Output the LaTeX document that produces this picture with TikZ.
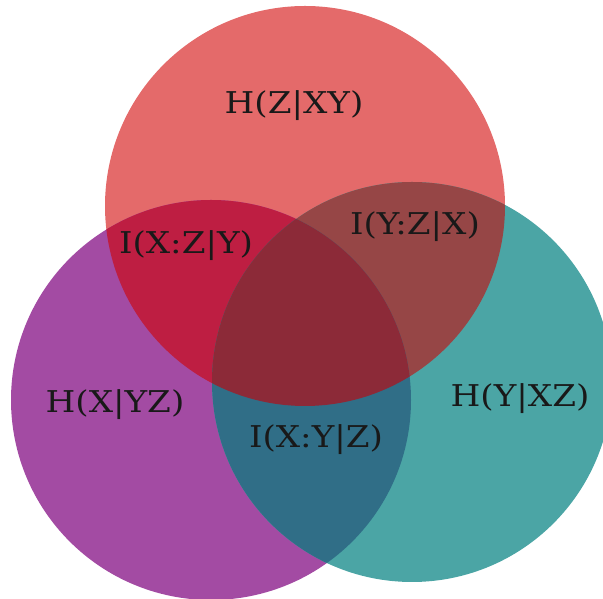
\documentclass[tikz,border=0pt]{standalone}
\usepackage{fontspec}
\setmainfont{DejaVu Serif}
\definecolor{zcol}{RGB}{228,106,106}
\definecolor{xcol}{RGB}{163,75,163}
\definecolor{ycol}{RGB}{75,165,165}
\definecolor{xzcol}{RGB}{190,30,66}
\definecolor{yzcol}{RGB}{150,70,70}
\definecolor{xycol}{RGB}{48,110,135}
\definecolor{xyzcol}{RGB}{140,42,56}
\tikzstyle{region} = [font=\fontsize{30}{36}\selectfont,
text=black!90,
xscale=1.14,
anchor=base,
inner sep=0pt]
\def\rad{200pt}

\begin{document}
\begin{tikzpicture}[x=1pt,y=1pt]

			\useasboundingbox (0,0) rectangle (603,599);

			\coordinate (zc) at (305,393);
			\coordinate (xc) at (211,199);
			\coordinate (yc) at (412,217);

			\clip (0,0) rectangle (603,599);

			\fill [zcol] (zc) circle (\rad);
			\fill [xcol] (xc) circle (\rad);
			\fill [ycol] (yc) circle (\rad);

			\begin{scope}
			\clip (zc) circle (\rad);
			\fill [xzcol] (xc) circle (\rad);
			\fill [yzcol] (yc) circle (\rad);
			\end{scope}

			\begin{scope}
			\clip (xc) circle (\rad);
			\fill [xycol] (yc) circle (\rad);
			\end{scope}

			\begin{scope}
			\clip (zc) circle (\rad);
			\clip (xc) circle (\rad);
			\fill [xyzcol] (yc) circle (\rad);
			\end{scope}

			\node (hz) [region] at (294,485) {H(Z|XY)};
			\node (ixz) [region] at (186,345) {I(X:Z|Y)};
			\node (iyz) [region] at (415,364) {I(Y:Z|X)};
			\node (hx) [region] at (115,186) {H(X|YZ)};
			\node (hy) [region] at (520,192) {H(Y|XZ)};
			\node (ixy) [region] at (316,151) {I(X:Y|Z)};

\end{tikzpicture}
\end{document}
